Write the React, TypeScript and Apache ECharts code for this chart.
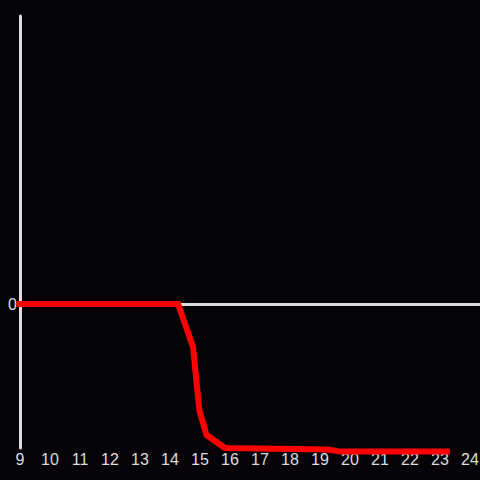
import React, { useEffect, useRef } from "react";
import * as echarts from "echarts";

const xValues = [8.9, 14.27, 14.77, 14.98, 15.22, 15.83, 19.27, 19.67, 23.33];
const yValues = [0, 0, -30, -74, -91, -100, -101, -102.5, -102.5];

export default function App() {
  const ref = useRef<HTMLDivElement>(null);
  useEffect(() => {
    if (!ref.current) return;
    const chart = echarts.init(ref.current, undefined, { renderer: "svg" });
    const data = xValues.map((x, i) => [x, yValues[i]]);
    chart.setOption({
      animation: false,
      backgroundColor: "#050307",
      grid: { left: 20, right: 0, top: 16, bottom: 32, outerBoundsMode: "none", containLabel: false },
      xAxis: [
        {
          type: "value",
          min: 9,
          max: 24.3333,
          interval: 1,
          position: "bottom",
          axisLine: { show: false, onZero: false },
          axisTick: { show: false },
          splitLine: { show: false },
          axisLabel: {
            color: "#dddddd",
            fontSize: 16,
            fontFamily: "Liberation Sans",
            margin: 3,
            showMaxLabel: false,
            formatter: (v: number) => (Number.isInteger(v) ? String(v) : ""),
          },
        },
        {
          type: "value",
          min: 9,
          max: 24.3333,
          position: "top",
          axisLine: { show: true, onZero: true, lineStyle: { color: "#dddddd", width: 3 } },
          axisTick: { show: false },
          axisLabel: { show: false },
          splitLine: { show: false },
        },
      ],
      yAxis: {
        type: "value",
        min: -100,
        max: 200,
        interval: 100,
        axisLine: { show: true, onZero: false, lineStyle: { color: "#dddddd", width: 3 } },
        axisTick: { show: false },
        splitLine: { show: false },
        axisLabel: {
          color: "#dddddd",
          fontSize: 16,
          fontFamily: "Liberation Sans",
          margin: 3,
          formatter: (v: number) => (v === 0 ? "0" : ""),
        },
      },
      series: [
        {
          type: "line",
          data,
          xAxisIndex: 0,
          showSymbol: false,
          symbol: "none",
          clip: false,
          lineStyle: { color: "#ff0000", width: 6, cap: "butt", join: "miter" },
          z: 5,
        },
      ],
    });
    return () => chart.dispose();
  }, []);
  return <div ref={ref} style={{ width: 480, height: 480, position: "absolute", left: 0, top: 0 }} />;
}
